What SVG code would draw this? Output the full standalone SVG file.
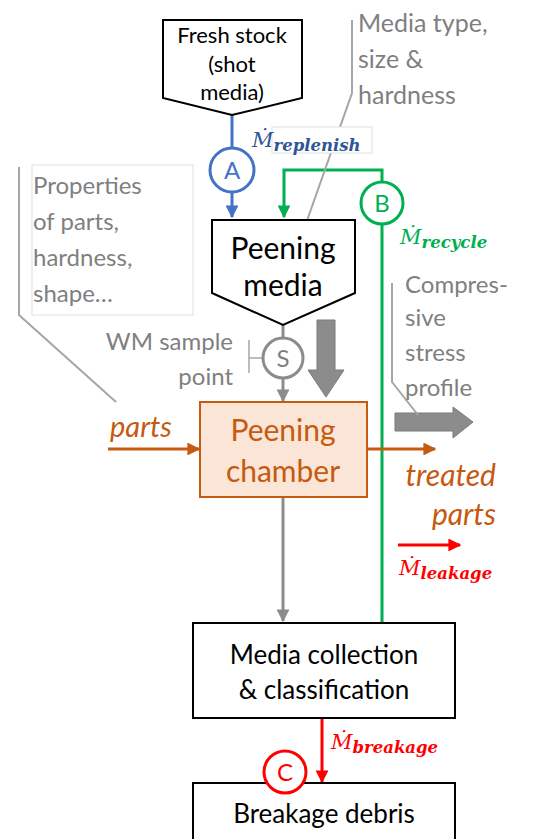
<svg xmlns="http://www.w3.org/2000/svg" width="540" height="839" viewBox="0 0 540 839">
<style>
.t{font-family:Lato,"Open Sans","Liberation Sans",sans-serif}
.blk{fill:#000}
.gr{fill:#7f7f7f}
.or{fill:#C55A11}
.m{font-family:"DejaVu Serif","Liberation Serif",serif;font-style:italic}
.box{fill:#fff;stroke:#000;stroke-width:2}
.note{fill:none;stroke:#a6a6a6;stroke-width:2}
.faint{fill:#fff;stroke:#e0e0e0;stroke-width:1}
</style>
<defs>
<marker id="ab" viewBox="0 0 10 10" refX="9" refY="5" markerWidth="4.3" markerHeight="4.3" orient="auto"><path d="M0,0L10,5L0,10z" fill="#4472C4"/></marker>
<marker id="ag" viewBox="0 0 10 10" refX="9" refY="5" markerWidth="4.3" markerHeight="4.3" orient="auto"><path d="M0,0L10,5L0,10z" fill="#00B050"/></marker>
<marker id="agr" viewBox="0 0 10 10" refX="9" refY="5" markerWidth="4.3" markerHeight="4.3" orient="auto"><path d="M0,0L10,5L0,10z" fill="#8c8c8c"/></marker>
<marker id="ao" viewBox="0 0 10 10" refX="9" refY="5" markerWidth="4.3" markerHeight="4.3" orient="auto"><path d="M0,0L10,5L0,10z" fill="#C55A11"/></marker>
<marker id="ar" viewBox="0 0 10 10" refX="9" refY="5" markerWidth="4.3" markerHeight="4.3" orient="auto"><path d="M0,0L10,5L0,10z" fill="#FF0000"/></marker>
</defs>

<g id="connectors">
  <line x1="232" y1="115" x2="232" y2="148" stroke="#4472C4" stroke-width="3"/>
  <line x1="232" y1="192" x2="232" y2="217" stroke="#4472C4" stroke-width="3" marker-end="url(#ab)"/>
  <polyline points="382,182 382,170 284,170 284,217" fill="none" stroke="#00B050" stroke-width="3" marker-end="url(#ag)"/>
  <line x1="382" y1="224" x2="382" y2="623" stroke="#00B050" stroke-width="3"/>
  <line x1="283" y1="325" x2="283" y2="338" stroke="#8c8c8c" stroke-width="3"/>
  <line x1="283" y1="378" x2="283" y2="401" stroke="#8c8c8c" stroke-width="3" marker-end="url(#agr)"/>
  <line x1="283" y1="497" x2="283" y2="621" stroke="#8c8c8c" stroke-width="3" marker-end="url(#agr)"/>
  <line x1="108" y1="449" x2="199" y2="449" stroke="#C55A11" stroke-width="3" marker-end="url(#ao)"/>
  <line x1="367" y1="449" x2="435" y2="449" stroke="#C55A11" stroke-width="3" marker-end="url(#ao)"/>
  <line x1="398" y1="545" x2="460" y2="545" stroke="#FF0000" stroke-width="3" marker-end="url(#ar)"/>
  <line x1="322" y1="718" x2="322" y2="782" stroke="#FF0000" stroke-width="3" marker-end="url(#ar)"/>
  <path d="M317,320H335V370H344L326,397L308,370H317Z" fill="#8c8c8c" stroke="#7a7a7a" stroke-width="1"/>
  <path d="M395,413H453V407L473,422L453,438V431H395Z" fill="#8c8c8c" stroke="#7a7a7a" stroke-width="1"/>
</g>

<g id="fresh-stock">
  <path d="M163,20H302V98L232,115L163,98Z" class="box"/>
  <text class="t blk" font-size="22" text-anchor="middle"><tspan x="232" y="43">Fresh stock</tspan><tspan x="232" y="72">(shot</tspan><tspan x="232" y="100">media)</tspan></text>
</g>

<g id="media-type-note">
  <polyline points="352,20 352,93 303,232" class="note"/>
  <text class="t gr" font-size="25"><tspan x="358" y="32">Media type,</tspan><tspan x="358" y="68">size &amp;</tspan><tspan x="358" y="104">hardness</tspan></text>
</g>

<g id="replenish-label">
  <rect x="272" y="127" width="100" height="26" class="faint"/>
  <text class="m" fill="#2F5597" font-size="21" x="252" y="147">Ṁ<tspan font-size="16.5" font-weight="bold" dy="4">replenish</tspan></text>
</g>

<g id="circle-A">
  <circle cx="232" cy="170" r="22" fill="#fff" stroke="#4472C4" stroke-width="3"/>
  <text class="t" fill="#4472C4" font-size="24" text-anchor="middle" x="232" y="179">A</text>
</g>

<g id="circle-B">
  <circle cx="382" cy="203" r="21" fill="#fff" stroke="#00B050" stroke-width="3"/>
  <text class="t" fill="#00B050" font-size="24" text-anchor="middle" x="382" y="212">B</text>
</g>

<g id="recycle-label">
  <text class="m" fill="#00B050" font-size="21" x="400" y="244">Ṁ<tspan font-size="16.5" font-weight="bold" dy="4">recycle</tspan></text>
</g>

<g id="properties-note">
  <rect x="32" y="165" width="161" height="150" class="faint"/>
  <polyline points="19,167 19,315 116,402" class="note"/>
  <text class="t gr" font-size="24"><tspan x="33" y="194">Properties</tspan><tspan x="33" y="230">of parts,</tspan><tspan x="33" y="266">hardness,</tspan><tspan x="33" y="302">shape…</tspan></text>
</g>

<g id="peening-media">
  <path d="M212,220H355V293L283,325L212,293Z" class="box"/>
  <text class="t blk" font-size="30" text-anchor="middle"><tspan x="283" y="259">Peening</tspan><tspan x="283" y="296">media</tspan></text>
</g>

<g id="wm-sample">
  <line x1="249" y1="340" x2="249" y2="373" stroke="#a6a6a6" stroke-width="1.5"/>
  <line x1="249" y1="358" x2="262" y2="358" stroke="#a6a6a6" stroke-width="1.5"/>
  <text class="t gr" font-size="24" text-anchor="end"><tspan x="233" y="350">WM sample</tspan><tspan x="233" y="385">point</tspan></text>
</g>

<g id="circle-S">
  <circle cx="283" cy="358" r="20" fill="#fff" stroke="#8c8c8c" stroke-width="3"/>
  <text class="t" fill="#7f7f7f" font-size="24" text-anchor="middle" x="283" y="367">S</text>
</g>

<g id="compressive-note">
  <polyline points="392,283 392,382 418,415" class="note"/>
  <text class="t gr" font-size="24"><tspan x="405" y="293">Compres-</tspan><tspan x="405" y="326">sive</tspan><tspan x="405" y="361">stress</tspan><tspan x="405" y="396">profile</tspan></text>
</g>

<g id="peening-chamber">
  <rect x="200" y="402" width="167" height="95" fill="#FBE5D6" stroke="#C55A11" stroke-width="2"/>
  <text class="t or" font-size="30" text-anchor="middle"><tspan x="283" y="441">Peening</tspan><tspan x="283" y="482">chamber</tspan></text>
</g>

<g id="parts-in">
  <text class="t or" font-size="29" font-style="italic" x="110" y="437">parts</text>
</g>

<g id="treated-parts">
  <text class="t or" font-size="30" font-style="italic" text-anchor="end"><tspan x="496" y="486">treated</tspan><tspan x="496" y="525">parts</tspan></text>
</g>

<g id="leakage-label">
  <text class="m" fill="#FF0000" font-size="21" x="399" y="575">Ṁ<tspan font-size="16.5" font-weight="bold" dy="4">leakage</tspan></text>
</g>

<g id="media-collection">
  <rect x="193" y="623" width="262" height="95" class="box"/>
  <text class="t blk" font-size="26" text-anchor="middle"><tspan x="324" y="664">Media collection</tspan><tspan x="324" y="699">&amp; classification</tspan></text>
</g>

<g id="breakage-label">
  <text class="m" fill="#FF0000" font-size="21" x="331" y="749">Ṁ<tspan font-size="16.5" font-weight="bold" dy="4">breakage</tspan></text>
</g>

<g id="breakage-debris">
  <rect x="193" y="783" width="262" height="70" class="box"/>
  <text class="t blk" font-size="26" text-anchor="middle" x="324" y="823">Breakage debris</text>
</g>

<g id="circle-C">
  <circle cx="285" cy="772" r="21" fill="#fff" stroke="#FF0000" stroke-width="3"/>
  <text class="t" fill="#FF0000" font-size="24" text-anchor="middle" x="285" y="781">C</text>
</g>
</svg>
